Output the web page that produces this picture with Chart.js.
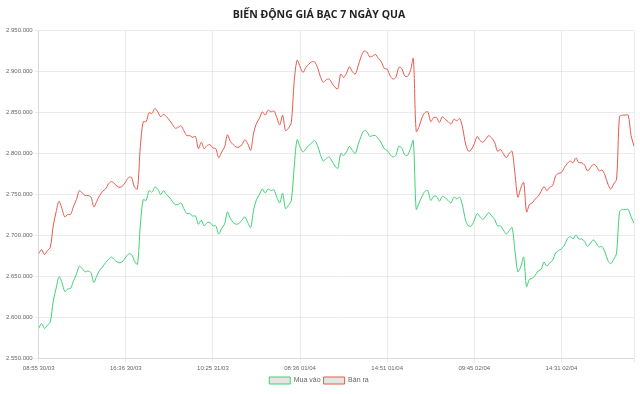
<!DOCTYPE html>
<html>
<head>
<meta charset="utf-8">
<script src="https://cdn.jsdelivr.net/npm/chart.js@4/dist/chart.umd.min.js"></script>
<style>
  html, body { margin: 0; padding: 0; background: #fff; }
  #wrap { width: 640px; height: 394px; }
</style>
</head>
<body>
<div id="wrap"><canvas id="silverChart"></canvas></div>
<script>
// tick labels shown on the x axis (one every 30 samples)
const tickLabels = ["08:55 30/03", "16:36 30/03", "10:25 31/03", "08:36 01/04", "14:51 01/04", "09:45 02/04", "14:31 02/04"];
const tickEvery = 30;

// gia mua vao (nghin dong)
const buyPrices = [
  2587, 2593, 2587, 2591, 2595, 2620, 2636, 2650, 2643, 2632,
  2635, 2636, 2645, 2653, 2663, 2660, 2656, 2657, 2655, 2643,
  2651, 2658, 2662, 2667, 2671, 2674, 2671, 2668, 2667, 2669,
  2674, 2678, 2677, 2669, 2665, 2713, 2744, 2743, 2755, 2753,
  2759, 2757, 2750, 2755, 2750, 2747, 2742, 2738, 2738, 2740,
  2733, 2727, 2727, 2724, 2724, 2714, 2719, 2712, 2716, 2716,
  2712, 2712, 2702, 2709, 2714, 2729, 2721, 2716, 2714, 2715,
  2719, 2723, 2716, 2710, 2731, 2744, 2750, 2757, 2752, 2757,
  2755, 2756, 2747, 2740, 2752, 2733, 2737, 2743, 2785, 2817,
  2808, 2802, 2806, 2810, 2813, 2816, 2810, 2799, 2791, 2794,
  2796, 2791, 2785, 2782, 2800, 2798, 2802, 2809, 2804, 2800,
  2811, 2821, 2828, 2827, 2821, 2822, 2822, 2818, 2813, 2806,
  2804, 2799, 2796, 2798, 2809, 2807, 2799, 2798, 2806, 2816,
  2732, 2740, 2748, 2754, 2755, 2743, 2748, 2748, 2742, 2748,
  2746, 2743, 2740, 2747, 2745, 2747, 2736, 2719, 2712, 2712,
  2719, 2727, 2723, 2720, 2724, 2728, 2724, 2720, 2712, 2712,
  2707, 2702, 2706, 2710, 2682, 2656, 2662, 2674, 2638, 2647,
  2648, 2652, 2657, 2659, 2668, 2663, 2667, 2670, 2679, 2682,
  2684, 2688, 2696, 2699, 2696, 2701, 2696, 2696, 2693, 2687,
  2691, 2695, 2691, 2686, 2687, 2680, 2670, 2666, 2671, 2679,
  2729, 2732, 2732, 2732, 2723, 2715
].map(v => v * 1000);

// gia ban ra (nghin dong)
const sellPrices = [
  2678, 2683, 2677, 2682, 2686, 2712, 2729, 2742, 2733, 2723,
  2726, 2726, 2736, 2744, 2755, 2752, 2749, 2749, 2747, 2735,
  2742, 2749, 2754, 2757, 2763, 2766, 2764, 2760, 2759, 2761,
  2766, 2771, 2771, 2759, 2757, 2809, 2839, 2839, 2850, 2849,
  2855, 2851, 2845, 2848, 2845, 2841, 2836, 2831, 2832, 2834,
  2828, 2822, 2822, 2820, 2821, 2806, 2814, 2806, 2810, 2811,
  2807, 2806, 2795, 2802, 2808, 2823, 2815, 2811, 2808, 2808,
  2811, 2817, 2812, 2804, 2825, 2837, 2843, 2851, 2847, 2853,
  2851, 2852, 2844, 2835, 2847, 2828, 2831, 2838, 2889, 2914,
  2906, 2899, 2905, 2909, 2912, 2912, 2905, 2894, 2887, 2890,
  2891, 2886, 2881, 2879, 2897, 2893, 2898, 2906, 2900, 2897,
  2907, 2918, 2925, 2924, 2918, 2919, 2921, 2916, 2912, 2904,
  2903, 2895, 2891, 2893, 2905, 2904, 2895, 2894, 2901, 2916,
  2827, 2833, 2844, 2850, 2851, 2839, 2844, 2844, 2838, 2845,
  2842, 2839, 2836, 2842, 2840, 2843, 2831, 2812, 2803, 2805,
  2812, 2821, 2816, 2814, 2818, 2822, 2819, 2814, 2803, 2805,
  2800, 2795, 2800, 2803, 2776, 2747, 2758, 2765, 2729, 2738,
  2740, 2745, 2748, 2754, 2760, 2755, 2759, 2761, 2773, 2776,
  2777, 2783, 2788, 2791, 2789, 2795, 2789, 2789, 2786, 2779,
  2783, 2787, 2785, 2779, 2780, 2774, 2763, 2757, 2763, 2769,
  2845, 2847, 2847, 2847, 2822, 2809
].map(v => v * 1000);

const yMin = 2550000;
const yMax = 2950000;
const yStep = 50000;

const toPoints = arr => arr.map((v, i) => ({ x: i, y: v }));

function fmt(n) {
  return String(Math.round(n)).replace(/\B(?=(\d{3})+(?!\d))/g, ".");
}

const ctx = document.getElementById("silverChart").getContext("2d");
new Chart(ctx, {
  type: "line",
  data: {
    datasets: [
      {
        label: "Mua vào",
        data: toPoints(buyPrices),
        borderColor: "#3fd175",
        backgroundColor: "rgba(0,0,0,0.1)",
        borderWidth: 1,
        pointRadius: 0,
        tension: 0.3,
        fill: false,
      },
      {
        label: "Bán ra",
        data: toPoints(sellPrices),
        borderColor: "#e8594c",
        backgroundColor: "rgba(0,0,0,0.1)",
        borderWidth: 1,
        pointRadius: 0,
        tension: 0.3,
        fill: false,
      },
    ],
  },
  options: {
    responsive: true,
    maintainAspectRatio: false,
    animation: false,
    layout: { padding: { left: 4, right: 6, top: 0, bottom: 0 } },
    plugins: {
      title: {
        display: true,
        text: "BIẾN ĐỘNG GIÁ BẠC 7 NGÀY QUA",
        color: "#222",
        font: { family: "'Open Sans', sans-serif", size: 10.5, weight: "bold" },
        padding: { top: 9, bottom: 9 },
      },
      legend: {
        position: "bottom",
        labels: {
          boxWidth: 21,
          boxHeight: 7,
          padding: 3,
          color: "#666",
          font: { family: "'Liberation Sans', Arial, sans-serif", size: 7 },
        },
      },
      tooltip: { enabled: false },
    },
    scales: {
      x: {
        type: "linear",
        min: 0,
        max: buyPrices.length - 1,
        ticks: {
          stepSize: tickEvery,
          autoSkip: false,
          maxRotation: 0,
          color: "#666",
          padding: 2,
          font: { family: "'Liberation Sans', Arial, sans-serif", size: 6 },
          callback: v => tickLabels[v / tickEvery] || "",
        },
        grid: { color: "rgba(0,0,0,0.08)", tickLength: 4 },
        border: { color: "rgba(0,0,0,0.08)" },
      },
      y: {
        min: yMin,
        max: yMax,
        ticks: {
          stepSize: yStep,
          color: "#666",
          padding: 2,
          font: { family: "'Liberation Sans', Arial, sans-serif", size: 6 },
          callback: v => fmt(v),
        },
        grid: { color: "rgba(0,0,0,0.08)", tickLength: 4 },
        border: { color: "rgba(0,0,0,0.08)" },
      },
    },
  },
});
</script>
</body>
</html>
